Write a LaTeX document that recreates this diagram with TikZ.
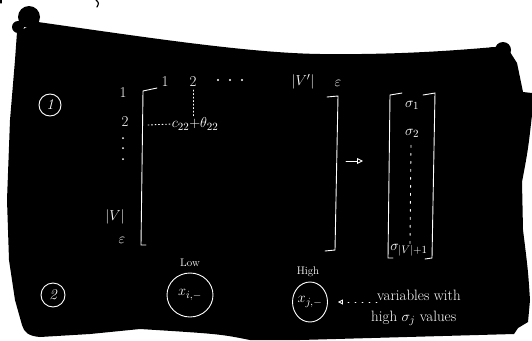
\documentclass[tikz,border=0pt]{standalone}
\usetikzlibrary{arrows.meta,shapes.geometric}
\begin{document}
\begin{tikzpicture}[x=1pt,y=-1pt,
  txt/.style={text=white, font=\fontsize{15}{15}\selectfont, inner sep=0pt},
  small/.style={text=white, font=\fontsize{11}{11}\selectfont, inner sep=0pt},
  stroke/.style={white, line width=0.9pt, line cap=round},
  ring/.style={circle, draw=white, line width=0.9pt, text=white, inner sep=0pt, minimum size=22pt, font=\fontsize{15}{15}\selectfont\itshape},
  varnode/.style={ellipse, draw=white, line width=0.9pt, text=white, inner sep=0pt, font=\fontsize{15}{15}\selectfont}]
\useasboundingbox (0,0) rectangle (532,340);
\fill[white] (0,0) rectangle (532,340);
% fragments of text above
\draw[black, line width=1.2pt, line cap=round] (1,0) -- (1,3);
\draw[black, line width=1.2pt, line cap=round] (96,0) .. controls (99,3) .. (97,7);
% black board
\fill[black] (17,32) -- (38,22) .. controls (150,38) and (250,53) .. (320,54)
  .. controls (400,55) and (460,50) .. (495,47) -- (510,52) -- (517,63) -- (523,92)
  -- (532,93) -- (532,115) .. controls (528,150) .. (522,182) -- (523,230)
  .. controls (528,270) .. (530,300) -- (528,322) -- (518,328) -- (514,334)
  -- (300,340) -- (250,340) .. controls (220,334) .. (140,329) -- (90,334) -- (40,337)
  .. controls (28,336) and (24,332) .. (22,325) -- (15,300) -- (9,260) -- (7,200) -- (10,120) -- (15,60) -- cycle;
\fill[black] (29,17) circle (11pt);
\fill[black] (18,27) circle (6pt);
\fill[black] (503,50) circle (8pt);
\fill[black] (492,52) circle (5pt);
% section markers
\node[ring] (s1) at (50,105) {1};
\node[ring, minimum size=24pt] (s2) at (53,295) {2};
% row labels
\node[txt] (r1) at (123,93) {1};
\node[txt] (r2) at (125,122) {2};
\fill[white] (123,138) circle (1pt) (123,148) circle (1pt) (123,159) circle (1pt);
\node[txt] (rv) at (115,217) {$|V|$};
\node[txt] (re) at (122,240) {$\varepsilon$};
% column labels
\node[txt] (k1) at (165,82) {1};
\node[txt] (k2) at (193,82) {2};
\fill[white] (218,80) circle (1.2pt) (230,80) circle (1.2pt) (242,80) circle (1.2pt);
\node[txt] (kv) at (303,82) {$|V'|$};
\node[txt] (ke) at (338,83) {$\varepsilon$};
% big matrix brackets
\coordinate (lb1) at (157,88);
\coordinate (lb2) at (143,91);
\coordinate (lb3) at (141,245);
\coordinate (lb4) at (146,245);
\draw[stroke] (lb1) -- (lb2) -- (lb3) -- (lb4);
\coordinate (rb1) at (327,97);
\coordinate (rb2) at (338,96);
\coordinate (rb3) at (335,250);
\coordinate (rb4) at (325,251);
\draw[stroke] (rb1) -- (rb2) -- (rb3) -- (rb4);
% entry
\node[txt] (e22) at (195,124) {$c_{22}{+}\theta_{22}$};
\coordinate (hstart) at (148,125);
\draw[stroke, dash pattern=on 1pt off 2.5pt] (hstart) -- (e22.west);
\draw[stroke, dash pattern=on 1pt off 2.5pt] (k2.south) ++(0,3) -- (e22.north -| k2.south);
% arrow
\coordinate (a1) at (346,161);
\coordinate (a2) at (363,161);
\draw[stroke, -{Triangle[open, length=6pt, width=6pt]}] (a1) -- (a2);
% vector
\draw[stroke] (402,93) -- (390,95) -- (388,258) -- (393,258);
\draw[stroke] (423,95) -- (435,93) -- (432,258) -- (425,259);
\node[txt] (v1) at (412,105) {$\sigma_1$};
\node[txt] (v2) at (412,133) {$\sigma_2$};
\node[txt] (vn) at (409,250) {$\sigma_{|V|+1}$};
\draw[stroke, dash pattern=on 2pt off 6pt] (v2.south) ++(-1,8) -- (vn.north -| 410,0) ;
% part 2
\node[small] (low) at (190,263) {Low};
\node[varnode, minimum width=46pt, minimum height=44pt] (xi) at (190,295) {$x_{i,-}$};
\node[small] (high) at (308,272) {High};
\node[varnode, minimum width=35pt, minimum height=40pt] (xj) at (310,302) {$x_{j,-}$};
\node[txt, anchor=west] (n1) at (377,295) {variables with};
\node[txt, anchor=west] (n2) at (371,318) {high $\sigma_j$ values};
\draw[stroke, dash pattern=on 1pt off 6pt, -{Triangle[open, length=5pt, width=5pt]}, shorten >=10pt] (n1.west |- 0,302) -- (xj.east);
\end{tikzpicture}
\end{document}
